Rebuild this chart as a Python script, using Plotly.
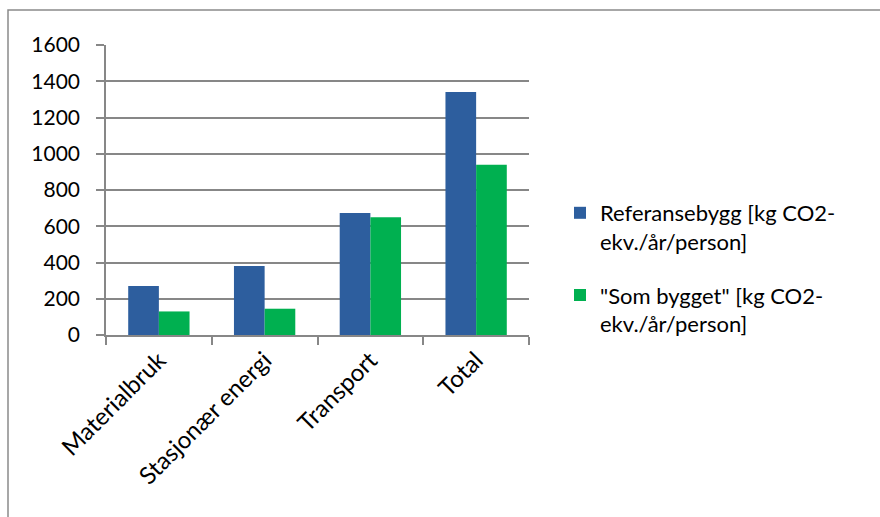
import plotly.graph_objects as go

categories = ["Materialbruk", "Stasjonær energi", "Transport", "Total"]
referansebygg = [270, 381, 673, 1341]
som_bygget = [130, 145, 649, 940]
series_names = [
    "Referansebygg [kg CO2-<br>ekv./år/person]",
    "\"Som bygget\" [kg CO2-<br>ekv./år/person]",
]
y_ticks = [0, 200, 400, 600, 800, 1000, 1200, 1400, 1600]

W, H = 880, 517
L, R, T, B = 106, 351, 45, 182
FONT = "Lato, 'Open Sans', sans-serif"
GRID = "#878787"

fig = go.Figure()
fig.add_trace(go.Bar(
    x=categories, y=referansebygg, name=series_names[0], legendgroup="ref",
    marker=dict(color="#2D5E9E", line=dict(width=0)),
))
fig.add_trace(go.Bar(
    x=categories, y=som_bygget, name=series_names[1], legendgroup="bygget",
    marker=dict(color="#00B050", line=dict(width=0)),
))

# outer frame around the whole chart (pixel -> paper conversion)
pw, ph = W - L - R, H - T - B


def px_x(p):
    return (p - L) / pw


def px_y(p):
    return (H - B - p) / ph


fig.add_shape(
    type="rect", xref="paper", yref="paper",
    x0=px_x(8), x1=px_x(W + 20),
    y0=px_y(H + 20), y1=px_y(10),
    line=dict(color="#8A8A8A", width=1.5), fillcolor="rgba(0,0,0,0)",
    layer="below",
)

fig.update_layout(
    width=W, height=H,
    margin=dict(l=L, r=R, t=T, b=B),
    paper_bgcolor="white", plot_bgcolor="white",
    barmode="group", bargap=0.42, bargroupgap=0,
    font=dict(family=FONT, size=21, color="#000000"),
    xaxis=dict(
        type="category", showgrid=False,
        showline=True, linecolor=GRID, linewidth=1.5,
        ticks="outside", ticklen=8, tickcolor=GRID, tickwidth=1.5,
        tickson="boundaries", ticklabelstandoff=0,
        tickangle=-45, tickfont=dict(size=24),
    ),
    yaxis=dict(
        range=[0, 1600], tickvals=y_ticks,
        showgrid=True, gridcolor=GRID, gridwidth=1.5,
        showline=True, linecolor=GRID, linewidth=1.5,
        ticks="outside", ticklen=8, tickcolor=GRID, tickwidth=1.5,
        ticklabelstandoff=12,
        tickfont=dict(size=21), zeroline=False,
    ),
    legend=dict(
        x=px_x(560), y=px_y(192), xanchor="left", yanchor="top",
        font=dict(size=22), tracegroupgap=22, valign="top",
        traceorder="grouped",
        bgcolor="rgba(0,0,0,0)",
    ),
    showlegend=True,
)

fig.write_html("out.html")
